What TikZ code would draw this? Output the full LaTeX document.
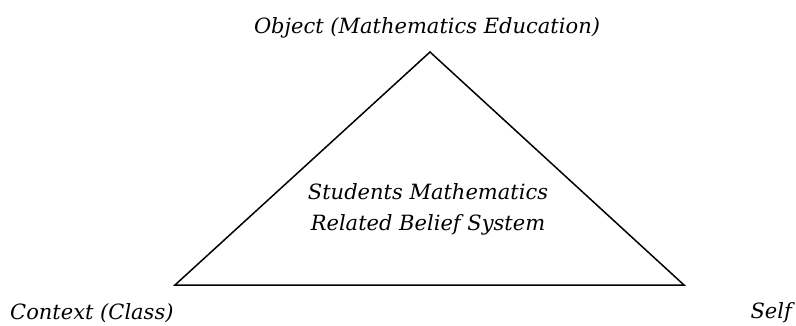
\documentclass[tikz,border=0pt]{standalone}
\usepackage{fontspec}
\setmainfont{DejaVu Serif}
\begin{document}
\begin{tikzpicture}[x=1pt,y=-1pt,
    lbl/.style={font=\itshape\fontsize{21}{31}\selectfont, inner sep=0pt}]
  \useasboundingbox (0,0) rectangle (796,325);
  % corners of the triangle
  \coordinate (obj) at (430,52);
  \coordinate (ctx) at (175,285);
  \coordinate (slf) at (684,285);
  \draw[line width=1.5pt, line join=miter] (obj) -- (ctx) -- (slf) -- cycle;
  % labels
  \node[lbl, anchor=base] (objlbl) at (427,33) {Object (Mathematics Education)};
  \node[lbl, anchor=base west] (ctxlbl) at (10,319) {Context (Class)};
  \node[lbl, anchor=base east] (slflbl) at (792,318) {Self};
  \node[lbl, align=center] (belief) at (428,209) {Students Mathematics\\Related Belief System};
\end{tikzpicture}
\end{document}
